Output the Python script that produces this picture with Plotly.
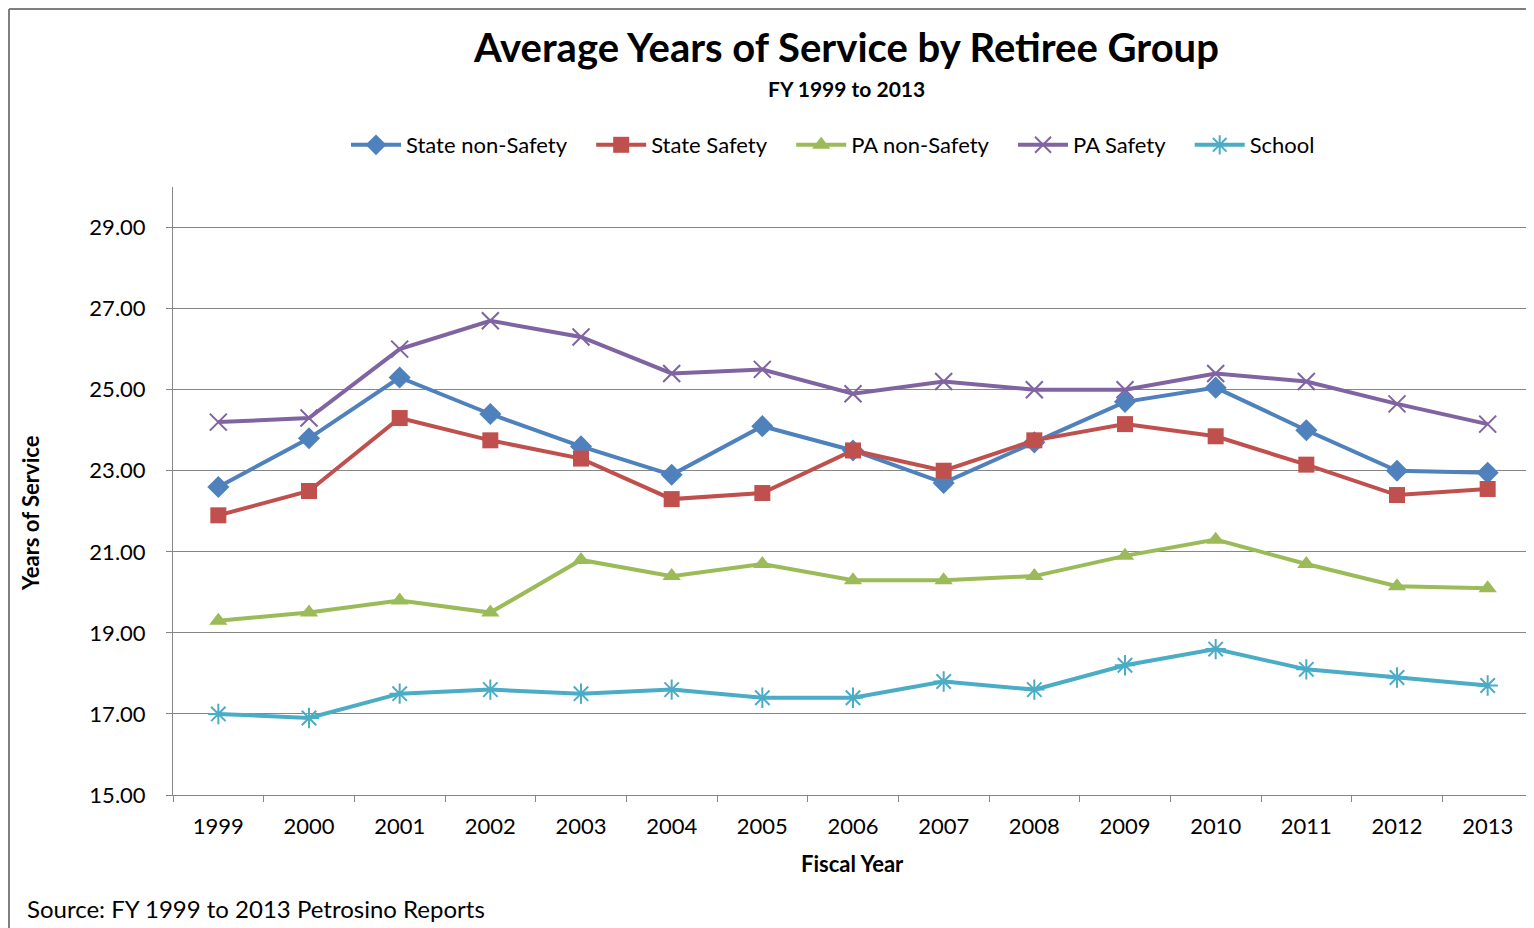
import plotly.graph_objects as go

years = ["1999","2000","2001","2002","2003","2004","2005","2006","2007","2008","2009","2010","2011","2012","2013"]
state_non_safety = [22.6,23.8,25.3,24.4,23.6,22.9,24.1,23.5,22.7,23.7,24.7,25.05,24.0,23.0,22.95]
state_safety = [21.9,22.5,24.3,23.75,23.3,22.3,22.45,23.5,23.0,23.75,24.15,23.85,23.15,22.4,22.55]
pa_non_safety = [19.3,19.5,19.8,19.5,20.8,20.4,20.7,20.3,20.3,20.4,20.9,21.3,20.7,20.15,20.1]
pa_safety = [24.2,24.3,26.0,26.7,26.3,25.4,25.5,24.9,25.2,25.0,25.0,25.4,25.2,24.65,24.15]
school = [17.0,16.9,17.5,17.6,17.5,17.6,17.4,17.4,17.8,17.6,18.2,18.6,18.1,17.9,17.7]
y_ticks = [15,17,19,21,23,25,27,29]

FONT = "Lato"
OFF = 8  # page offset of the figure (body margin)
W, H = 1526, 920
ML, MR, MT, MB = 173 - OFF, 1, 187 - OFF, 133

def px_x(p):
    return (p - OFF - ML) / (W - ML - MR)

def px_y(p):
    return (H - MB - (p - OFF)) / (H - MT - MB)

GAP = "\u00a0\u00a0\u00a0\u2009"
series = [
    ("State non-Safety", state_non_safety, "#4F81BD", "diamond", 17, 0),
    ("State Safety", state_safety, "#C0504D", "square", 16, 0),
    ("PA non-Safety", pa_non_safety, "#9BBB59", "triangle-up", 16, 0),
    ("PA Safety", pa_safety, "#8064A2", "x-thin", 17, 2),
    ("School", school, "#4BACC6", "asterisk", 17, 2),
]

fig = go.Figure()
for i, (name, vals, col, sym, sz, lw) in enumerate(series):
    label = name + (GAP if i < len(series) - 1 else "")
    fig.add_trace(go.Scatter(
        x=years, y=vals, name=label, mode="lines+markers",
        line=dict(color=col, width=4),
        marker=dict(symbol=sym, size=sz, color=col, line=dict(color=col, width=lw)),
        hovertemplate=name + ": %{y:.2f}<extra></extra>",
    ))

fig.update_layout(
    width=W, height=H,
    margin=dict(l=ML, r=MR, t=MT, b=MB),
    paper_bgcolor="white", plot_bgcolor="white",
    font=dict(family=FONT, size=22, color="#000000"),
    showlegend=True,
    legend=dict(orientation="h", x=px_x(833), xanchor="center", y=px_y(145), yanchor="middle",
                font=dict(size=22, family=FONT), itemwidth=50, tracegroupgap=0,
                bgcolor="rgba(0,0,0,0)"),
    xaxis=dict(type="category", tickson="boundaries", ticks="outside", ticklen=6,
               tickcolor="#868686", showline=True, linecolor="#868686", linewidth=1,
               showgrid=False, tickfont=dict(size=22, family=FONT), range=[-0.5, 14.5],
               ticklabelstandoff=12),
    yaxis=dict(range=[15, 30], tickvals=y_ticks, ticktext=[f"{v:.2f}" for v in y_ticks],
               showgrid=True, gridcolor="#868686", gridwidth=1, zeroline=False,
               showline=True, linecolor="#868686", linewidth=1, ticks="outside",
               ticklen=6, tickcolor="#868686", tickfont=dict(size=22, family=FONT),
               ticklabelstandoff=16),
    annotations=[
        dict(text="<b>Average Years of Service by Retiree Group</b>", x=px_x(846), y=px_y(47),
             xref="paper", yref="paper", showarrow=False, font=dict(size=40, family=FONT),
             xanchor="center", yanchor="middle"),
        dict(text="<b>FY 1999 to 2013</b>", x=px_x(846), y=px_y(88),
             xref="paper", yref="paper", showarrow=False, font=dict(size=21, family=FONT),
             xanchor="center", yanchor="middle"),
        dict(text="<b>Fiscal Year</b>", x=px_x(852), y=px_y(863),
             xref="paper", yref="paper", showarrow=False, font=dict(size=22, family=FONT),
             xanchor="center", yanchor="middle"),
        dict(text="<b>Years of Service</b>", x=px_x(31), y=px_y(513), textangle=-90,
             xref="paper", yref="paper", showarrow=False, font=dict(size=22, family=FONT),
             xanchor="center", yanchor="middle"),
        dict(text="Source: FY 1999 to 2013 Petrosino Reports", x=px_x(25), y=px_y(908),
             xref="paper", yref="paper", showarrow=False, font=dict(size=24, family=FONT),
             xanchor="left", yanchor="middle"),
    ],
    shapes=[
        dict(type="line", xref="paper", yref="paper", x0=px_x(9), x1=px_x(9), y0=px_y(9), y1=px_y(940),
             line=dict(color="#7F7F7F", width=2)),
        dict(type="line", xref="paper", yref="paper", x0=px_x(9), x1=px_x(1540), y0=px_y(9), y1=px_y(9),
             line=dict(color="#7F7F7F", width=2)),
    ],
)

fig.write_html("out.html")
